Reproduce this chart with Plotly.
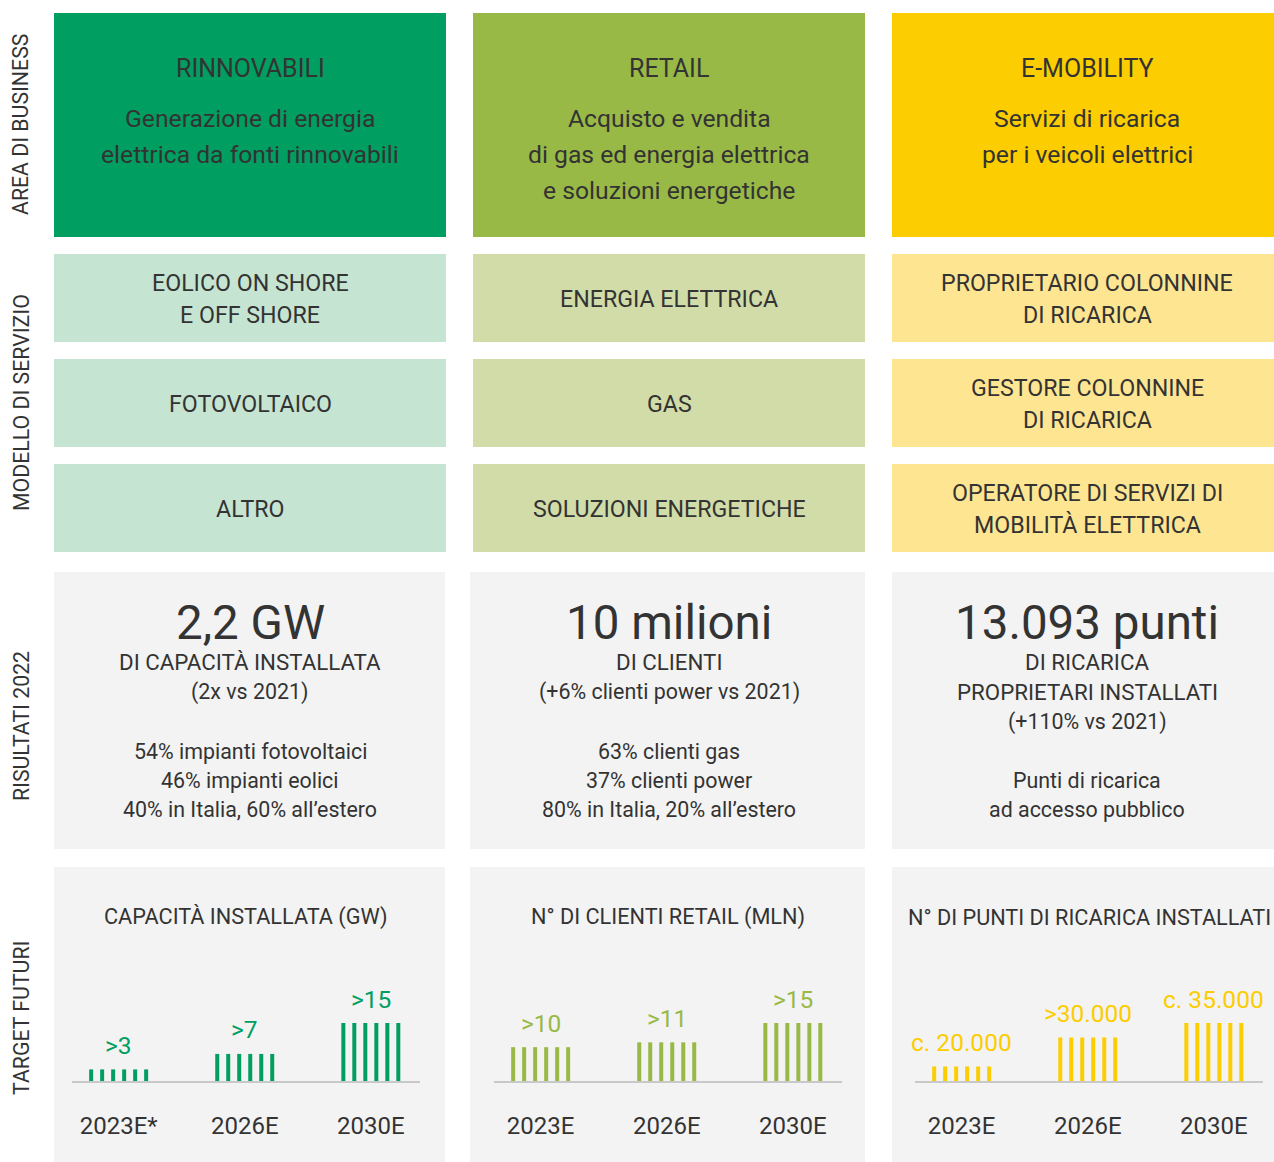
import plotly.graph_objects as go

# ---------------- data ----------------
areas = ["RINNOVABILI", "RETAIL", "E-MOBILITY"]
area_desc = [
    ["Generazione di energia", "elettrica da fonti rinnovabili"],
    ["Acquisto e vendita", "di gas ed energia elettrica", "e soluzioni energetiche"],
    ["Servizi di ricarica", "per i veicoli elettrici"],
]
service_models = [
    [["EOLICO ON SHORE", "E OFF SHORE"], ["FOTOVOLTAICO"], ["ALTRO"]],
    [["ENERGIA ELETTRICA"], ["GAS"], ["SOLUZIONI ENERGETICHE"]],
    [["PROPRIETARIO COLONNINE", "DI RICARICA"], ["GESTORE COLONNINE", "DI RICARICA"],
     ["OPERATORE DI SERVIZI DI", "MOBILITÀ ELETTRICA"]],
]
result_headline = ["2,2 GW", "10 milioni", "13.093 punti"]
result_sub = [
    ["DI CAPACITÀ INSTALLATA", "(2x vs 2021)"],
    ["DI CLIENTI", "(+6% clienti power vs 2021)"],
    ["DI RICARICA", "PROPRIETARI INSTALLATI", "(+110% vs 2021)"],
]
result_detail = [
    ["54% impianti fotovoltaici", "46% impianti eolici", "40% in Italia, 60% all’estero"],
    ["63% clienti gas", "37% clienti power", "80% in Italia, 20% all’estero"],
    ["Punti di ricarica", "ad accesso pubblico"],
]
row_labels = ["AREA DI BUSINESS", "MODELLO DI SERVIZIO", "RISULTATI 2022", "TARGET FUTURI"]

target_titles = ["CAPACITÀ INSTALLATA (GW)", "N° DI CLIENTI RETAIL (MLN)",
                 "N° DI PUNTI DI RICARICA INSTALLATI"]
target_years = [["2023E*", "2026E", "2030E"], ["2023E", "2026E", "2030E"], ["2023E", "2026E", "2030E"]]
target_values = [[3, 7, 15], [10, 11, 15], [20000, 30000, 35000]]
target_labels = [[">3", ">7", ">15"], [">10", ">11", ">15"], ["c. 20.000", ">30.000", "c. 35.000"]]
target_axis_start = [0, 3, 15000]

# ---------------- style ----------------
FW, FH = 1274, 1162
FONT = "Roboto"
TXT = "#333333"
main_col = ["#009e61", "#99b947", "#fccd00"]
light_col = ["#c6e4d2", "#d1dca8", "#fee592"]
GRAY = "#f3f3f3"

col_x = [(54, 446), (473, 865), (892, 1274)]
col_x_low = [(54, 445), (470, 865), (892, 1274)]
text_cx = [250, 669, 1087]
chart_x = [(72, 420), (494, 842), (915, 1263)]
title_cx = [246, 668, 1089]


def px(x):
    return x / FW


def py(y):
    return 1 - y / FH


shapes = []
annotations = []


def rect(x0, y0, x1, y1, color):
    shapes.append(dict(type="rect", xref="paper", yref="paper", x0=px(x0), x1=px(x1),
                       y0=py(y1), y1=py(y0), fillcolor=color, line=dict(width=0),
                       layer="below"))


def text(x, y, s, size, color=TXT, angle=0):
    annotations.append(dict(x=px(x), y=py(y), xref="paper", yref="paper", text=s,
                            showarrow=False, xanchor="center", yanchor="middle",
                            textangle=angle, font=dict(family=FONT, size=size, color=color)))


# row labels
for lab, yc in zip(row_labels, [125, 403, 726, 1018]):
    text(21, yc, lab, 21.3, angle=-90)

for c in range(3):
    x0, x1 = col_x[c]
    cx = text_cx[c]
    # row 1
    rect(x0, 13, x1, 237, main_col[c])
    text(cx, 68, areas[c], 25)
    for k, line in enumerate(area_desc[c]):
        text(cx, 119 + 35.5 * k, line, 24.7)
    # row 2
    for b, (y0, y1) in enumerate([(254, 342), (359, 447), (464, 552)]):
        rect(x0, y0, x1, y1, light_col[c])
        lines = service_models[c][b]
        mid = (y0 + y1) / 2
        n = len(lines)
        for k, line in enumerate(lines):
            text(cx, mid + 1 + (k - (n - 1) / 2) * 32, line, 23.2)
    # row 3
    lx0, lx1 = col_x_low[c]
    rect(lx0, 572, lx1, 849, GRAY)
    text(cx, 623, result_headline[c], 47.5)
    for k, line in enumerate(result_sub[c]):
        text(cx, 662 + 30 * k, line, 22.3 if line.isupper() else 21.4)
    nd = len(result_detail[c])
    for k, line in enumerate(result_detail[c]):
        text(cx, 810 - 29.5 * (nd - 1 - k), line, 21.4)
    # row 4
    rect(lx0, 867, lx1, 1162, GRAY)
    text(title_cx[c], 917, target_titles[c], 21.7)

fig = go.Figure()

# bar charts
offsets = [-0.218, -0.131, -0.0437, 0.0437, 0.131, 0.218]
base_y, top_y = 1081, 1023
for c in range(3):
    ax = "" if c == 0 else str(c + 1)
    xs, ys = [], []
    start = target_axis_start[c]
    for i, v in enumerate(target_values[c]):
        for o in offsets:
            xs += [i + o, i + o, None]
            ys += [start, v, None]
    fig.add_trace(go.Scatter(x=xs, y=ys, mode="lines", xaxis="x" + ax, yaxis="y" + ax,
                             line=dict(color=main_col[c], width=4), hoverinfo="skip",
                             showlegend=False, cliponaxis=False))
    for i, (v, lab) in enumerate(zip(target_values[c], target_labels[c])):
        annotations.append(dict(x=i, y=v, xref="x" + ax, yref="y" + ax, text=lab,
                                showarrow=False, yshift=24, xanchor="center", yanchor="middle",
                                font=dict(family=FONT, size=24.5, color=main_col[c])))
    x0, x1 = chart_x[c]
    fig.update_layout(**{
        "xaxis" + ax: dict(domain=[px(x0), px(x1)], range=[-0.37, 2.39], anchor="y" + ax,
                           tickmode="array", tickvals=[0, 1, 2], ticktext=target_years[c],
                           tickfont=dict(family=FONT, size=24, color=TXT), ticks="",
                           ticklabelstandoff=22, showgrid=False, zeroline=False,
                           showline=True, linecolor="#c8c8c8", linewidth=2, fixedrange=True),
        "yaxis" + ax: dict(domain=[py(base_y), py(top_y)],
                           range=[start, max(target_values[c])], anchor="x" + ax,
                           visible=False, showgrid=False, zeroline=False, fixedrange=True),
    })

fig.update_layout(
    width=FW, height=FH, margin=dict(l=0, r=0, t=0, b=0),
    paper_bgcolor="white", plot_bgcolor="rgba(0,0,0,0)",
    shapes=shapes, annotations=annotations, showlegend=False,
    font=dict(family=FONT, color=TXT),
)

fig.write_html("out.html", config={"displayModeBar": False},
               post_script="document.body.style.margin='0';document.body.style.overflow='hidden';")
